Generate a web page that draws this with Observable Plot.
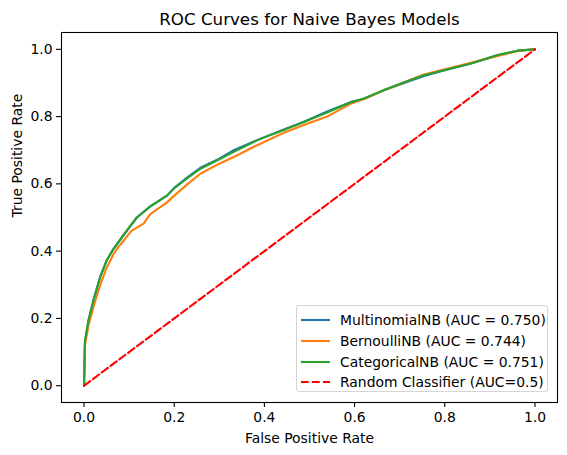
<!DOCTYPE html>
<html>
<head>
<meta charset="utf-8">
<script src="https://cdn.jsdelivr.net/npm/d3@7"></script>
<script src="https://cdn.jsdelivr.net/npm/@observablehq/plot@0.6"></script>
<style>
  body { margin: 0; background: white; font-family: "DejaVu Sans", sans-serif; }
  #chart { position: relative; width: 567px; height: 455px; }
  .legend {
    position: absolute; left: 296px; top: 305px; width: 252px; height: 87px;
    border: 1px solid #d5d5d5; border-radius: 3px; background: rgba(255,255,255,0.8);
    box-sizing: border-box; font-size: 13.9px; color: black;
  }
  .legend .row { position: absolute; left: 0; height: 20px; display: flex; align-items: center; }
  .legend svg { margin-left: 4px; margin-right: 10px; }
</style>
</head>
<body>
<div id="chart"></div>
<script>
// curvas ROC (false positive rate, true positive rate)
const fprMulti = [0, 0.002, 0.01, 0.021, 0.036, 0.05, 0.065, 0.084, 0.1, 0.117, 0.147, 0.184, 0.2, 0.23, 0.258, 0.3, 0.332, 0.384, 0.443, 0.487, 0.539, 0.591, 0.621, 0.665, 0.71, 0.754, 0.798, 0.858, 0.917, 0.962, 1]
const tprMulti = [0, 0.13, 0.195, 0.255, 0.325, 0.372, 0.405, 0.44, 0.47, 0.5, 0.533, 0.565, 0.588, 0.62, 0.648, 0.675, 0.7, 0.73, 0.762, 0.784, 0.815, 0.843, 0.853, 0.878, 0.9, 0.921, 0.937, 0.958, 0.982, 0.996, 1]

const fprBern = [0, 0.002, 0.01, 0.021, 0.036, 0.05, 0.065, 0.076, 0.084, 0.105, 0.132, 0.147, 0.184, 0.2, 0.23, 0.258, 0.3, 0.332, 0.384, 0.443, 0.487, 0.539, 0.591, 0.621, 0.665, 0.71, 0.754, 0.798, 0.858, 0.917, 0.962, 1]
const tprBern = [0, 0.12, 0.18, 0.235, 0.3, 0.35, 0.39, 0.412, 0.425, 0.46, 0.482, 0.51, 0.545, 0.565, 0.6, 0.63, 0.66, 0.68, 0.715, 0.752, 0.775, 0.8, 0.838, 0.852, 0.878, 0.902, 0.925, 0.94, 0.96, 0.98, 0.995, 1]

const fprCat = [0, 0.002, 0.01, 0.021, 0.036, 0.05, 0.065, 0.084, 0.1, 0.117, 0.147, 0.184, 0.2, 0.23, 0.258, 0.3, 0.332, 0.384, 0.443, 0.487, 0.539, 0.591, 0.621, 0.665, 0.71, 0.754, 0.798, 0.858, 0.917, 0.962, 1]
const tprCat = [0, 0.134, 0.194, 0.253, 0.323, 0.372, 0.407, 0.442, 0.47, 0.5, 0.533, 0.565, 0.587, 0.618, 0.645, 0.673, 0.695, 0.73, 0.76, 0.784, 0.812, 0.842, 0.854, 0.879, 0.902, 0.923, 0.938, 0.958, 0.983, 0.996, 1]

const fprRandom = [0, 1]
const tprRandom = [0, 1]

const names = ["MultinomialNB (AUC = 0.750)", "BernoulliNB (AUC = 0.744)", "CategoricalNB (AUC = 0.751)", "Random Classifier (AUC=0.5)"]
const colors = ["#1f77b4", "#ff7f0e", "#2ca02c", "#ff0000"]
const ticks = [0, 0.2, 0.4, 0.6, 0.8, 1.0]

const toRows = (xs, ys) => xs.map((x, i) => ({fpr: x, tpr: ys[i]}))
const series = [toRows(fprMulti, tprMulti), toRows(fprBern, tprBern), toRows(fprCat, tprCat)]
const randomRows = toRows(fprRandom, tprRandom)

let chart = Plot.plot({
  width: 567,
  height: 455,
  marginLeft: 61,
  marginRight: 10,
  marginTop: 32,
  marginBottom: 53,
  style: {fontFamily: "DejaVu Sans, sans-serif", fontSize: "13.9px", color: "black", background: "white"},
  x: {domain: [-0.05, 1.05]},
  y: {domain: [-0.05, 1.05]},
  marks: [
    Plot.axisX(ticks, {tickSize: 5, tickPadding: 5, tickFormat: d3.format(".1f"), label: null, strokeWidth: 1.1}),
    Plot.axisY(ticks, {tickSize: 5, tickPadding: 4, tickFormat: d3.format(".1f"), label: null, strokeWidth: 1.1}),
    ...series.map((rows, i) => Plot.line(rows, {x: "fpr", y: "tpr", stroke: colors[i], strokeWidth: 2.1})),
    Plot.line(randomRows, {x: "fpr", y: "tpr", stroke: colors[3], strokeWidth: 2.1, strokeDasharray: "7.7,3.3"}),
    Plot.frame({stroke: "black", strokeWidth: 1.1}),
    Plot.text(["ROC Curves for Naive Bayes Models"], {frameAnchor: "top", dy: -8, lineAnchor: "bottom", fontSize: 16.7, fill: "black"}),
    Plot.text(["False Positive Rate"], {frameAnchor: "bottom", dy: 40, lineAnchor: "bottom", fill: "black"}),
    Plot.text(["True Positive Rate"], {frameAnchor: "left", dx: -40, rotate: -90, lineAnchor: "bottom", fill: "black"})
  ]
})
d3.select('#chart').append(() => chart)

// leyenda dentro del grafico, abajo a la derecha
const legend = d3.select('#chart').append('div').attr('class', 'legend')
names.forEach((name, i) => {
  const row = legend.append('div').attr('class', 'row').style('top', (4 + i * 20.8) + 'px')
  const s = row.append('svg').attr('width', 29).attr('height', 6)
  s.append('line').attr('x1', 0).attr('x2', 29).attr('y1', 3).attr('y2', 3)
    .attr('stroke', colors[i]).attr('stroke-width', 2.1)
    .attr('stroke-dasharray', i == 3 ? '7.7,3.3' : null)
  row.append('span').text(name)
})
</script>
</body>
</html>
